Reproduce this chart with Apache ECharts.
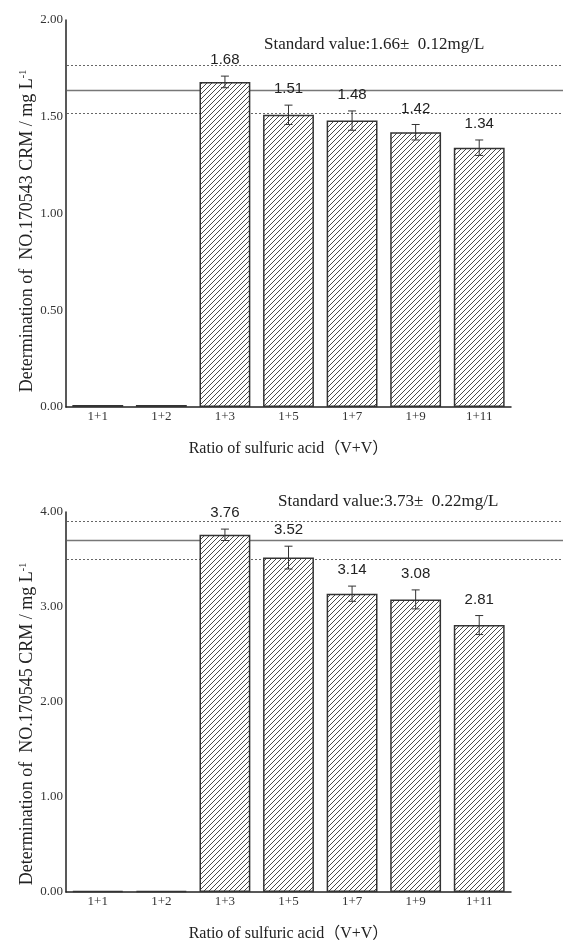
<!DOCTYPE html>
<html>
<head>
<meta charset="utf-8">
<script src="https://cdn.jsdelivr.net/npm/echarts@6/dist/echarts.min.js"></script>
<style>
  html, body { margin: 0; padding: 0; background: #fff; }
  #chart { width: 563px; height: 943px; }
</style>
</head>
<body>
<div id="chart"></div>
<script>
// data
const categories = ['1+1', '1+2', '1+3', '1+5', '1+7', '1+9', '1+11'];

const meansA = [0.01, 0.01, 1.68, 1.51, 1.48, 1.42, 1.34];
const errsA = [0, 0, 0.03, 0.05, 0.05, 0.04, 0.04];
const refLinesA = [1.77, 1.64, 1.52]; // upper, standard, lower
const ticksA = { min: 0, max: 2, interval: 0.5 };

const meansB = [0.01, 0.01, 3.76, 3.52, 3.14, 3.08, 2.81];
const errsB = [0, 0, 0.06, 0.12, 0.08, 0.10, 0.10];
const refLinesB = [3.91, 3.70, 3.51];
const ticksB = { min: 0, max: 4, interval: 1 };

const yNames = ['Determination of  NO.170543 CRM / mg L', 'Determination of  NO.170545 CRM / mg L'];
const stdTexts = ['Standard value:1.66\u00b1  0.12mg/L', 'Standard value:3.73\u00b1  0.22mg/L'];
const xName = 'Ratio of sulfuric acid\uff08V+V\uff09';

const SERIF = '"Liberation Serif", "Times New Roman", "Noto Sans CJK SC", serif';
const SANS = '"Liberation Sans", Arial, sans-serif';

// diagonal hatch fill
function hatch() {
  const c = document.createElement('canvas');
  c.width = 5; c.height = 5;
  const ctx = c.getContext('2d');
  ctx.fillStyle = '#fff';
  ctx.fillRect(0, 0, 5, 5);
  ctx.strokeStyle = '#4a4a4a';
  ctx.lineWidth = 1;
  ctx.beginPath();
  ctx.moveTo(-1, 6); ctx.lineTo(6, -1);
  ctx.moveTo(-1, 1); ctx.lineTo(1, -1);
  ctx.moveTo(4, 6); ctx.lineTo(6, 4);
  ctx.stroke();
  return c;
}
const hatchImg = hatch();

const grids = [
  { left: 66, right: 52, top: 20, height: 387 },
  { left: 66, right: 52, top: 512, height: 387 }
];

function errRender(means, errs) {
  return function (params, api) {
    const i = api.value(0);
    const m = means[i], e = errs[i];
    if (m < 0.1) return;
    const top = api.coord([i, m + e]);
    const bot = api.coord([i, m - e]);
    const cap = 4;
    const st = { stroke: '#333', lineWidth: 1 };
    return {
      type: 'group',
      children: [
        { type: 'line', shape: { x1: top[0], y1: top[1], x2: bot[0], y2: bot[1] }, style: st },
        { type: 'line', shape: { x1: top[0] - cap, y1: top[1], x2: top[0] + cap, y2: top[1] }, style: st },
        { type: 'line', shape: { x1: bot[0] - cap, y1: bot[1], x2: bot[0] + cap, y2: bot[1] }, style: st },
        {
          type: 'text',
          style: {
            text: m.toFixed(2), x: top[0], y: top[1] - 16,
            align: 'center', verticalAlign: 'middle',
            font: '15px ' + SANS, fill: '#222'
          }
        }
      ]
    };
  };
}

function xAxisOf(gi) {
  return {
    type: 'category', gridIndex: gi, data: categories,
    axisLine: { lineStyle: { color: '#222', width: 1.5 } },
    axisTick: { show: false },
    axisLabel: { margin: 3, fontFamily: SERIF, fontSize: 13, color: '#333' },
    name: xName, nameLocation: 'middle', nameGap: 34,
    nameTextStyle: { fontFamily: SERIF, fontSize: 16, color: '#222' }
  };
}

function yAxisOf(gi, t) {
  return {
    type: 'value', gridIndex: gi, min: t.min, max: t.max, interval: t.interval,
    axisLine: { show: true, lineStyle: { color: '#222', width: 1.5 } },
    axisTick: { show: false },
    splitLine: { show: false },
    axisLabel: {
      margin: 3, fontFamily: SERIF, fontSize: 13, color: '#333',
      formatter: v => v.toFixed(2)
    }
  };
}

function barSeries(gi, means) {
  return {
    type: 'bar', xAxisIndex: gi, yAxisIndex: gi, data: means,
    barCategoryGap: '20%',
    itemStyle: { color: { image: hatchImg, repeat: 'repeat' }, borderColor: '#333', borderWidth: 1.5 },
    z: 3
  };
}

function errSeries(gi, means, errs) {
  return {
    type: 'custom', xAxisIndex: gi, yAxisIndex: gi,
    data: means.map((m, i) => [i, m]),
    encode: { x: 0, y: 1 },
    renderItem: errRender(means, errs),
    z: 4
  };
}

const chart = echarts.init(document.getElementById('chart'));
chart.setOption({
  backgroundColor: '#fff',
  animation: false,
  grid: grids,
  xAxis: [xAxisOf(0), xAxisOf(1)],
  yAxis: [yAxisOf(0, ticksA), yAxisOf(1, ticksB)],
  series: [
    barSeries(0, meansA), errSeries(0, meansA, errsA),
    barSeries(1, meansB), errSeries(1, meansB, errsB)
  ]
});

// reference lines run from the y axis to the right edge of the figure
const graphic = [];
[refLinesA, refLinesB].forEach((lines, gi) => {
  lines.forEach((v, k) => {
    const y = Math.round(chart.convertToPixel({ yAxisIndex: gi }, v)) + 0.5;
    graphic.push({
      type: 'line', z: 1,
      shape: { x1: 67, y1: y, x2: 563, y2: y },
      style: k === 1
        ? { stroke: '#777', lineWidth: 1.5 }
        : { stroke: '#666', lineWidth: 1, lineDash: [2, 2] }
    });
  });
});

const nameY = [231, 724];
const stdPos = [[264, 45], [278, 502]];
[0, 1].forEach(gi => {
  graphic.push({
    type: 'text', x: 27, y: nameY[gi], rotation: Math.PI / 2,
    style: {
      text: yNames[gi] + '{sup|-1}',
      align: 'center', verticalAlign: 'middle',
      font: '18px ' + SERIF, fill: '#222',
      rich: { sup: { fontSize: 10, fontFamily: SERIF, verticalAlign: 'top', fill: '#222' } }
    }
  });
  graphic.push({
    type: 'text', x: stdPos[gi][0], y: stdPos[gi][1],
    style: {
      text: stdTexts[gi], align: 'left', verticalAlign: 'middle',
      font: '17px ' + SERIF, fill: '#222'
    }
  });
});

chart.setOption({ graphic: graphic });
</script>
</body>
</html>
